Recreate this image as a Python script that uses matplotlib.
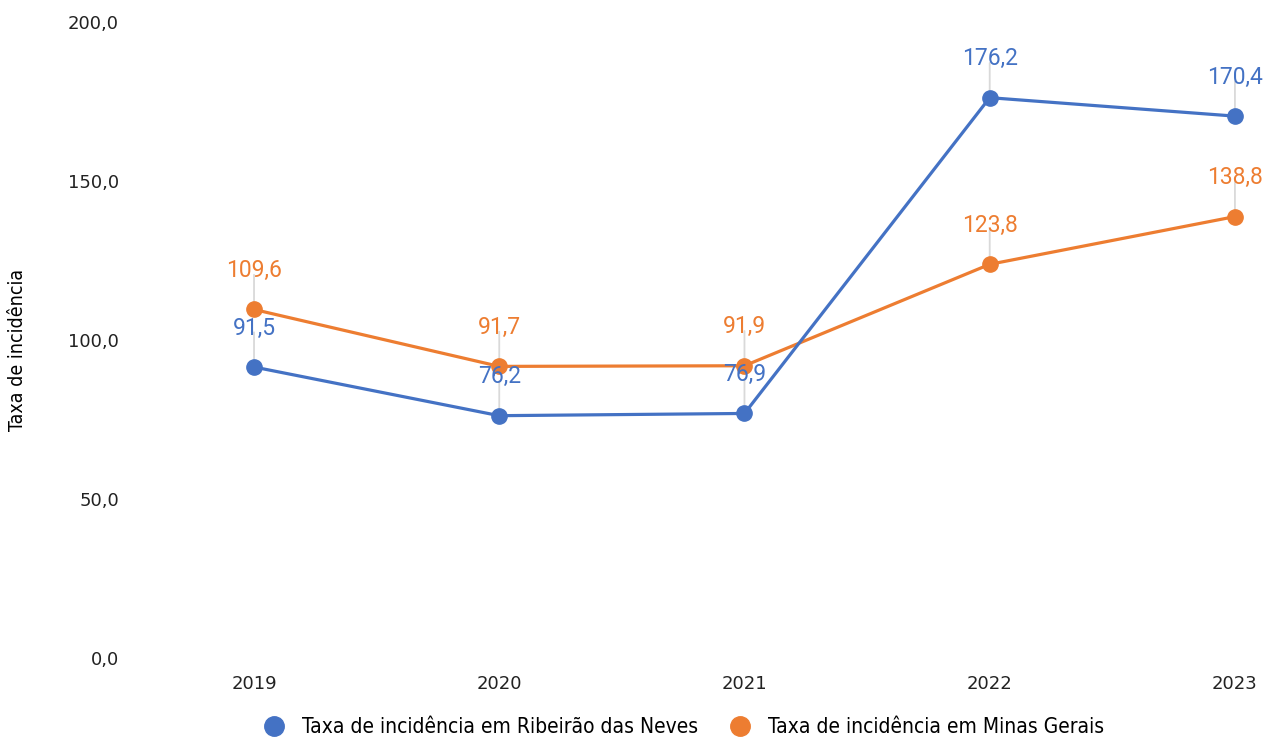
import matplotlib.pyplot as plt
from matplotlib.lines import Line2D
from matplotlib import font_manager

anos = ['2019', '2020', '2021', '2022', '2023']
ribeirao = [91.5, 76.2, 76.9, 176.2, 170.4]
minas = [109.6, 91.7, 91.9, 123.8, 138.8]
nome_ribeirao = 'Taxa de incidência em Ribeirão das Neves'
nome_minas = 'Taxa de incidência em Minas Gerais'
yticks = [0, 50, 100, 150, 200]

azul = '#4472C4'
laranja = '#ED7D31'

# narrow font for legend / y label, if there is one
nomes = {f.name for f in font_manager.fontManager.ttflist}
estreita = 'Liberation Sans Narrow' if 'Liberation Sans Narrow' in nomes else 'DejaVu Sans'


def fmt(v):
    return f'{v:.1f}'.replace('.', ',')


fig = plt.figure(figsize=(12.7, 7.38), dpi=100)
ax = fig.add_axes([0.1614, 0.1084, 0.8303, 0.8618])
x = list(range(len(anos)))

for serie, cor in [(minas, laranja), (ribeirao, azul)]:
    ax.plot(x, serie, color=cor, lw=2.3, marker='o', ms=11, zorder=3)

# leader lines + data labels
for serie, cor in [(ribeirao, azul), (minas, laranja)]:
    for xi, v in zip(x, serie):
        ax.annotate('', xy=(xi, v), xytext=(0, 25), textcoords='offset points',
                    xycoords='data',
                    arrowprops=dict(arrowstyle='-', color='#d9d9d9', lw=1.3,
                                    shrinkA=0, shrinkB=0), zorder=1)
        ax.annotate(fmt(v), xy=(xi, v), xytext=(0, 28), textcoords='offset points',
                    ha='center', va='center', color=cor, fontsize=16.5,
                    family='Roboto', zorder=4)

ax.set_xlim(-0.2, 4.1)
ax.set_ylim(0, 200)
ax.set_xticks(x)
ax.set_xticklabels(anos)
ax.set_yticks(yticks)
ax.set_yticklabels([fmt(v) for v in yticks])
ax.tick_params(length=0, labelsize=13, labelcolor='#222222', pad=12)
ax.tick_params(axis='y', pad=62)
for s in ax.spines.values():
    s.set_visible(False)

fig.text(18 / 1270, 1 - 350 / 738, 'Taxa de incidência', rotation=90,
         ha='center', va='center', fontsize=14, family=estreita,
         stretch='condensed')

handles = [Line2D([], [], ls='none', marker='o', ms=14, color=azul),
           Line2D([], [], ls='none', marker='o', ms=14, color=laranja)]
fig.legend(handles, [nome_ribeirao, nome_minas], loc='center',
           bbox_to_anchor=(683 / 1270, 1 - 727 / 738), ncol=2, frameon=False,
           prop={'family': estreita, 'size': 15, 'stretch': 'condensed'},
           handletextpad=0.75, columnspacing=1.4, handlelength=1.2)

fig.savefig('out.png', dpi=100)
